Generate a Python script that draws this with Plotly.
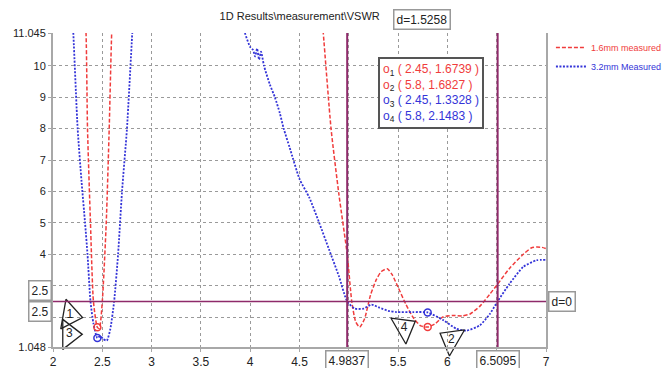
import plotly.graph_objects as go

# ---- data ----
red_x = [2.28, 2.335, 2.35, 2.38, 2.41, 2.45, 2.47, 2.50, 2.54, 2.57, 2.595, 2.64,
         3.5, 4.70, 4.741, 4.82, 4.90, 4.9837, 5.03, 5.07, 5.11, 5.16, 5.22, 5.28,
         5.33, 5.39, 5.44, 5.50, 5.58, 5.66, 5.73, 5.80, 5.88, 5.95, 6.05, 6.15,
         6.23, 6.33, 6.43, 6.5095, 6.63, 6.77, 6.85, 6.905, 6.96, 7.0]
red_y = [14.5, 11.045, 8.0, 5.0, 2.5, 1.6739, 1.64, 2.5, 5.0, 8.0, 11.045, 14.5,
         25.0, 12.5, 11.045, 8.0, 5.9, 4.0, 2.5, 1.85, 1.68, 1.95, 2.7, 3.2,
         3.45, 3.54, 3.35, 2.95, 2.4, 1.95, 1.72, 1.6827, 1.8, 2.0, 2.05, 2.04,
         2.1, 2.35, 2.73, 3.05, 3.55, 4.0, 4.2, 4.23, 4.22, 4.18]

blue_x = [2.15, 2.206, 2.25, 2.29, 2.325, 2.35, 2.38, 2.41, 2.45, 2.48, 2.51, 2.545,
          2.58, 2.62, 2.66, 2.70, 2.75, 2.804, 2.85, 3.4, 3.85, 3.947, 4.0, 4.03,
          4.05, 4.07, 4.09, 4.11, 4.14, 4.2, 4.25, 4.3, 4.34, 4.4, 4.5, 4.6, 4.7,
          4.8, 4.9, 4.9837, 5.06, 5.15, 5.23, 5.31, 5.4, 5.485, 5.65, 5.8, 5.96,
          6.09, 6.195, 6.33, 6.43, 6.5095, 6.63, 6.77, 6.905, 7.0]
blue_y = [14.5, 11.045, 8.0, 6.3, 5.0, 4.0, 2.5, 1.8, 1.3328, 1.40, 1.30, 1.25,
          1.6, 2.5, 4.0, 6.0, 8.0, 11.045, 13.5, 20.0, 12.5, 11.045, 10.6, 10.5,
          10.3, 10.55, 10.2, 10.45, 10.0, 9.4, 9.0, 8.5, 8.0, 7.4, 6.4, 5.8, 5.0,
          4.15, 3.3, 2.5, 2.27, 2.27, 2.4, 2.3, 2.2, 2.16, 2.16, 2.1483, 1.9,
          1.63, 1.57, 1.74, 2.1, 2.5, 3.06, 3.6, 3.81, 3.82]

marker_x = [2.45, 5.8, 2.45, 5.8]
marker_y = [1.6739, 1.6827, 1.3328, 2.1483]
marker_ids = ["1", "2", "3", "4"]

# callout labels
callout_x = [2.17, 6.04, 2.165, 5.56]
callout_y = [2.06, 1.28, 1.45, 1.66]
callout_sym = ["triangle-right-open", "triangle-left-open", "triangle-right-open", "triangle-right-open"]
callout_ang = [10, 30, 0, -30]

x1_line, x2_line, h_line = 4.9837, 6.5095, 2.5
d_text = "d=1.5258"

xticks = [2, 2.5, 3, 3.5, 4, 4.5, 5, 5.5, 6, 6.5, 7]
xticktext = ["2", "2.5", "3", "3.5", "4", "4.5", "", "5.5", "6", "", "7"]
yticks = [1.048, 2, 3, 4, 5, 6, 7, 8, 9, 10, 11.045]
yticktext = ["1.048", "2", "3", "4", "5", "6", "7", "8", "9", "10", "11.045"]

RED = "#f03c3c"
BLUE = "#3434d8"
PURPLE = "#8e2a6a"
FONT = "Liberation Sans"

fig = go.Figure()

fig.add_trace(go.Scatter(
    x=red_x, y=red_y, mode="lines",
    name="<span style='color:#f03c3c'>1.6mm measured</span>",
    line=dict(color=RED, width=1.5, dash="4px,2px", shape="spline", smoothing=0.6)))
fig.add_trace(go.Scatter(
    x=blue_x, y=blue_y, mode="lines",
    name="<span style='color:#3434d8'>3.2mm Measured</span>",
    line=dict(color=BLUE, width=1.8, dash="2px,1.5px", shape="spline", smoothing=0.6)))

fig.add_trace(go.Scatter(
    x=marker_x, y=marker_y, mode="markers", showlegend=False,
    marker=dict(symbol="circle-open", size=7, color=[RED, RED, BLUE, BLUE],
                line=dict(width=1.5))))

fig.add_trace(go.Scatter(
    x=callout_x, y=callout_y, mode="markers+text", showlegend=False,
    text=marker_ids, textposition="middle center",
    textfont=dict(family=FONT, size=12, color="#222"),
    marker=dict(symbol=callout_sym, angle=callout_ang, size=26, color="#222",
                line=dict(width=1.3, color="#222")),
    cliponaxis=False))

# reference lines
for xv in (x1_line, x2_line):
    fig.add_shape(type="line", x0=xv, x1=xv, y0=0, y1=1, xref="x", yref="paper",
                  line=dict(color=PURPLE, width=2))
fig.add_shape(type="line", x0=0, x1=1, y0=h_line, y1=h_line, xref="paper", yref="y",
              line=dict(color=PURPLE, width=1.5))

box = dict(bgcolor="white", bordercolor="#999", borderwidth=1.5, borderpad=2,
           showarrow=False, font=dict(family=FONT, size=12, color="#222"))
fig.add_annotation(x=x1_line, y=0, xref="x", yref="paper", yanchor="top", yshift=-3,
                   text=f"{x1_line}", **box)
fig.add_annotation(x=x2_line, y=0, xref="x", yref="paper", yanchor="top", yshift=-3,
                   text=f"{x2_line}", **box)
fig.add_annotation(x=(x1_line + x2_line) / 2, y=1, xref="x", yref="paper",
                   yanchor="bottom", yshift=3, text=d_text, **box)
fig.add_annotation(x=1, y=h_line, xref="paper", yref="y", xanchor="left", xshift=2,
                   text="d=0", **box)
fig.add_annotation(x=0, y=h_line, xref="paper", yref="y", xanchor="right", yanchor="bottom",
                   xshift=-1, text=f"{h_line}", **box)
fig.add_annotation(x=0, y=h_line, xref="paper", yref="y", xanchor="right", yanchor="top",
                   xshift=-1, text=f"{h_line}", **box)

# marker readout box
rows = []
for mid, mx, my, col in zip(marker_ids, marker_x, marker_y, [RED, RED, BLUE, BLUE]):
    rows.append(f"<span style='color:{col}'>o</span><sub>{mid}</sub>"
                f"<span style='color:{col}'> ( {mx}, {my} )</span>")
fig.add_annotation(x=5.3, y=0.925, xref="x", yref="paper", xanchor="left", yanchor="top",
                   text="<br>".join(rows), align="left", showarrow=False,
                   bgcolor="white", bordercolor="#555", borderwidth=2, borderpad=3,
                   font=dict(family=FONT, size=12, color="#222"))

fig.update_layout(
    width=666, height=368,
    margin=dict(l=53, r=120, t=33, b=21, autoexpand=False),
    paper_bgcolor="white", plot_bgcolor="white",
    title=dict(text=r"1D Results\measurement\VSWR", x=0.45, xanchor="center",
               y=0.955, yanchor="middle",
               font=dict(family=FONT, size=11, color="#222")),
    font=dict(family=FONT, size=11, color="#222"),
    legend=dict(x=1.01, y=1.0, xanchor="left", yanchor="top", bgcolor="rgba(0,0,0,0)",
                font=dict(family=FONT, size=9), itemwidth=30, tracegroupgap=0),
    xaxis=dict(range=[2, 7], tickvals=xticks, ticktext=xticktext, automargin=False,
               showgrid=True, gridcolor="#9a9a9a", griddash="dot", gridwidth=1,
               showline=True, linecolor="#a8a8a8", linewidth=2, zeroline=False,
               ticks="outside", ticklen=3, tickcolor="#a8a8a8",
               tickfont=dict(family=FONT, size=12, color="#222")),
    yaxis=dict(range=[1.048, 11.045], tickvals=yticks, ticktext=yticktext, automargin=False,
               showgrid=True, gridcolor="#9a9a9a", griddash="dot", gridwidth=1,
               showline=True, linecolor="#a8a8a8", linewidth=2, mirror=True, zeroline=False,
               ticks="outside", ticklen=3, tickcolor="#a8a8a8",
               tickfont=dict(family=FONT, size=11, color="#222")),
)

fig.write_html("out.html", config={"displayModeBar": False},
               post_script="document.body.style.margin='0';")
